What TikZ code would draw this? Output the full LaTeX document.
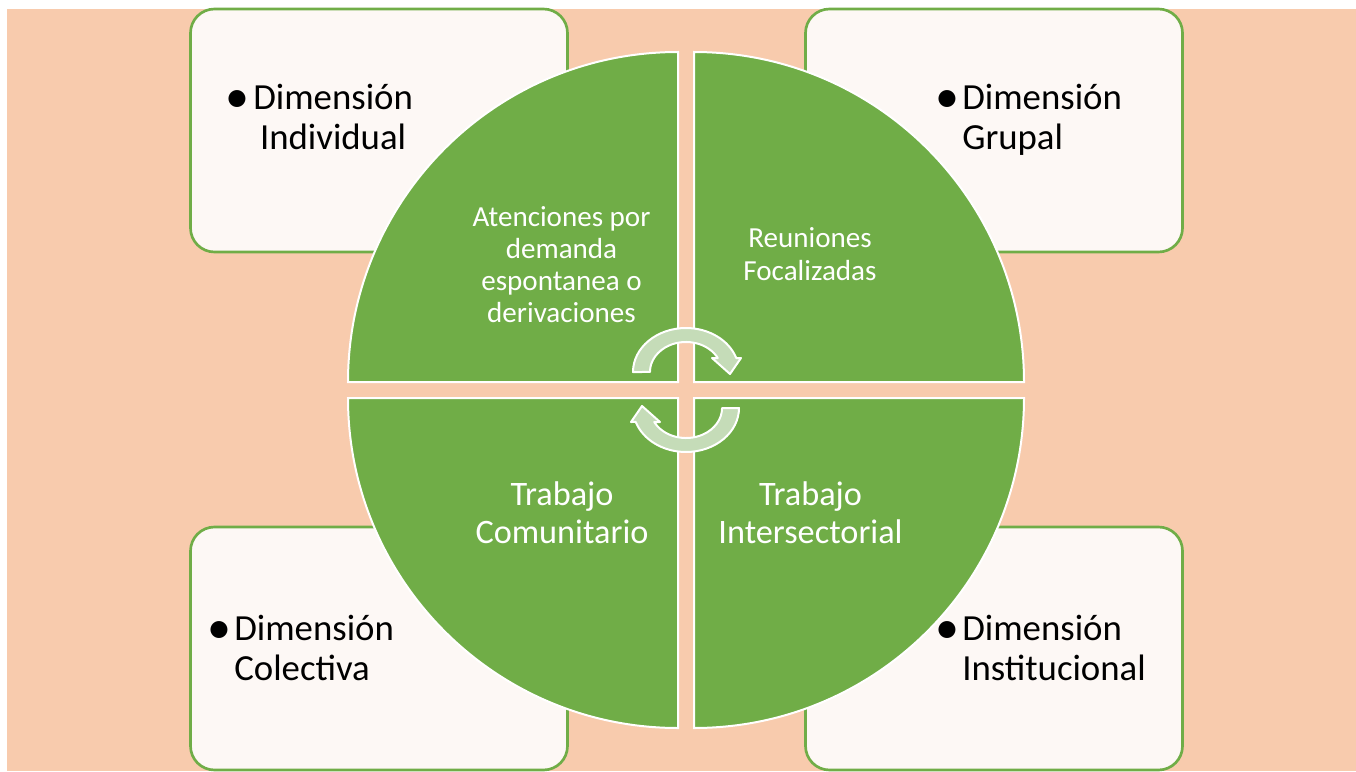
\documentclass[tikz,border=0pt]{standalone}
\usepackage{fontspec}
\setmainfont{Carlito}
\usetikzlibrary{positioning}

\definecolor{peach}{HTML}{F8CBAD}
\definecolor{leafgreen}{HTML}{70AD47}
\definecolor{paleleaf}{HTML}{C5DCB8}
\definecolor{cardfill}{HTML}{FDF8F5}

\newcommand{\txtblock}[2]{\begin{tabular}[t]{@{}#1@{}}#2\end{tabular}}

\tikzset{
  dimcard/.style={draw=leafgreen, line width=2pt, fill=cardfill, rounded corners=18pt,
    minimum width=282.75pt, minimum height=182.25pt, inner sep=0pt},
  dimtext/.style={anchor=base west, inner sep=0pt, font=\fontsize{27.6}{30}\selectfont},
  dimbullet/.style={anchor=base, inner sep=0pt, font=\fontsize{36}{40}\selectfont},
  quarter/.style={fill=leafgreen, draw=white, line width=1.5pt},
  quartertext/.style={anchor=base, inner sep=0pt, text=white},
  cyclearrow/.style={fill=paleleaf, draw=white, line width=1.5pt, line join=round},
}

\begin{document}
\begin{tikzpicture}[x=0.75pt, y=-0.75pt]
	\useasboundingbox (0,0) rectangle (1356,771);

	% ---------------------
	% Background
	\fill[peach] (7,9) rectangle (1356,771);

	% ---------------------
	% Dimension cards
	\node[dimcard] (CardIndividual)    at (379,130.5) {};
	\node[dimcard] (CardGrupal)        at (994,130.5) {};
	\node[dimcard] (CardColectiva)     at (379,648.5) {};
	\node[dimcard] (CardInstitucional) at (994,648.5) {};

	\node[dimbullet] (BulletIndividual) at (237,112.5) {\textbullet};
	\node[dimtext]   (TxtIndividual)    at (253,109) {\txtblock{c}{Dimensión\\Individual}};

	\node[dimbullet] (BulletGrupal) at (947,112.5) {\textbullet};
	\node[dimtext]   (TxtGrupal)    at (962,109) {\txtblock{l}{Dimensión\\Grupal}};

	\node[dimbullet] (BulletColectiva) at (219,643.5) {\textbullet};
	\node[dimtext]   (TxtColectiva)    at (234,640) {\txtblock{l}{Dimensión\\Colectiva}};

	\node[dimbullet] (BulletInstitucional) at (947,643.5) {\textbullet};
	\node[dimtext]   (TxtInstitucional)    at (962,640) {\txtblock{l}{Dimensión\\Institucional}};

	% ---------------------
	% Circle in four quarters
	\draw[quarter] (678,382) -- (348,382)  arc[start angle=180, end angle=270, radius=330] -- cycle;
	\draw[quarter] (694,382) -- (694,52)   arc[start angle=270, end angle=360, radius=330] -- cycle;
	\draw[quarter] (694,398) -- (1024,398) arc[start angle=0,   end angle=90,  radius=330] -- cycle;
	\draw[quarter] (678,398) -- (678,728)  arc[start angle=90,  end angle=180, radius=330] -- cycle;

	\node[quartertext, font=\fontsize{21.8}{24}\selectfont] (Atenciones) at (561.5,226)
		{\txtblock{c}{Atenciones por\\demanda\\espontanea o\\derivaciones}};
	\node[quartertext, font=\fontsize{21.8}{25}\selectfont] (Reuniones) at (810,247)
		{\txtblock{c}{Reuniones\\Focalizadas}};
	\node[quartertext, font=\fontsize{25.7}{28.5}\selectfont] (Comunitario) at (562,505)
		{\txtblock{c}{Trabajo\\Comunitario}};
	\node[quartertext, font=\fontsize{25.7}{28.5}\selectfont] (Intersectorial) at (810.5,505)
		{\txtblock{c}{Trabajo\\Intersectorial}};

	% ---------------------
	% Cycle arrows
	\coordinate (Hub) at (686,390);
	\path[cyclearrow] (633,372) arc[start angle=180, end angle=341.5, x radius=53, y radius=44]
		-- (741,358) -- (730,374) -- (712,358)
		-- (717.8,358) arc[start angle=332.2, end angle=180, x radius=36, y radius=30] -- cycle;
	\begin{scope}[rotate around={180:(Hub)}]
	\path[cyclearrow] (633,372) arc[start angle=180, end angle=341.5, x radius=53, y radius=44]
		-- (741,358) -- (730,374) -- (712,358)
		-- (717.8,358) arc[start angle=332.2, end angle=180, x radius=36, y radius=30] -- cycle;
	\end{scope}

\end{tikzpicture}
\end{document}
